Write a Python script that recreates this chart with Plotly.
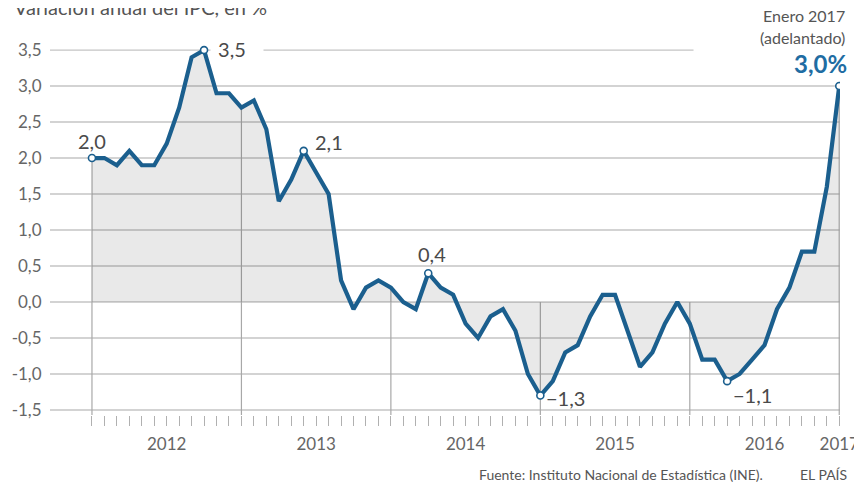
import plotly.graph_objects as go

# ---- data ----
months = [f"{y}-{m:02d}" for y in range(2012, 2017) for m in range(1, 13)] + ["2017-01"]
ipc = [2.0, 2.0, 1.9, 2.1, 1.9, 1.9, 2.2, 2.7, 3.4, 3.5, 2.9, 2.9,
       2.7, 2.8, 2.4, 1.4, 1.7, 2.1, 1.8, 1.5, 0.3, -0.1, 0.2, 0.3,
       0.2, 0.0, -0.1, 0.4, 0.2, 0.1, -0.3, -0.5, -0.2, -0.1, -0.4, -1.0,
       -1.3, -1.1, -0.7, -0.6, -0.2, 0.1, 0.1, -0.4, -0.9, -0.7, -0.3, 0.0,
       -0.3, -0.8, -0.8, -1.1, -1.0, -0.8, -0.6, -0.1, 0.2, 0.7, 0.7, 1.6,
       3.0]
highlight_months = ["2012-01", "2012-10", "2013-06", "2014-04", "2015-01", "2016-04", "2017-01"]
highlight_labels = ["2,0", "3,5", "2,1", "0,4", "−1,3", "−1,1", ""]
year_labels = ["2012", "2013", "2014", "2015", "2016", "2017"]
y_ticks = [-1.5, -1.0, -0.5, 0.0, 0.5, 1.0, 1.5, 2.0, 2.5, 3.0, 3.5]
y_ticktext = ["-1,5", "-1,0", "-0,5", "0,0", "0,5", "1,0", "1,5", "2,0", "2,5", "3,0", "3,5"]

x = list(range(len(months)))
hx = [months.index(m) for m in highlight_months]
hy = [ipc[i] for i in hx]

LINE = "#1b5f8e"
FONT = "Lato"
GRID = "#c4c4c4"
YMIN, YMAX = -1.57, 3.64
XMIN, XMAX = -3.37, 60.06

fig = go.Figure()
fig.add_trace(go.Scatter(
    x=x, y=ipc, mode="lines", fill="tozeroy",
    fillcolor="rgba(0,0,0,0.085)",
    line=dict(color=LINE, width=4.2), hoverinfo="skip"))
fig.add_trace(go.Scatter(
    x=hx, y=hy, mode="markers",
    marker=dict(symbol="circle", size=7, color="white",
                line=dict(color=LINE, width=1.6)), hoverinfo="skip"))

shapes = []
# horizontal gridlines
for v in y_ticks:
    x1 = XMAX if v < 3.5 else 48.3
    shapes.append(dict(type="line", xref="x", yref="y", x0=XMIN, x1=x1, y0=v, y1=v,
                       line=dict(color=GRID, width=1.4), layer="below"))
# vertical year lines
for i in range(0, len(months), 12):
    shapes.append(dict(type="line", xref="x", yref="y", x0=i, x1=i,
                       y0=max(ipc[i], 0), y1=YMIN,
                       line=dict(color="#a8a8a8", width=1.2), layer="below"))

ann = []
offs = {"2,0": ("center", 0, 17), "3,5": ("left", 10, 1), "2,1": ("left", 9, 9),
        "0,4": ("center", 4, 19), "−1,3": ("left", 4, -2), "−1,1": ("left", 4, -14)}
for i, t in zip(hx, highlight_labels):
    if not t:
        continue
    xa, xs, ys = offs[t]
    a = dict(x=i, y=ipc[i], xref="x", yref="y", text=t, showarrow=False,
             xanchor=xa, yanchor="middle", xshift=xs, yshift=ys,
             font=dict(family=FONT, size=20, color="#4a4a4a"))
    if t == "3,5":
        a.update(bgcolor="white", borderpad=2, text="&nbsp;3,5&nbsp;&nbsp;&nbsp;", xshift=6)
    ann.append(a)

# helpers: page pixel -> paper coordinate (plot area spans x 50..840, y 40..415 on the page)
def yp(p):
    return (415 - p) / 375

def xpp(p):
    return (p - 50) / 790

ann += [
    dict(x=xpp(12), y=yp(7), xref="paper", yref="paper", xanchor="left", yanchor="middle",
         text="Variación anual del IPC, en %", showarrow=False,
         font=dict(family=FONT, size=20, color="#555555")),
    dict(x=xpp(847), y=yp(15), xref="paper", yref="paper", xanchor="right", yanchor="middle",
         text="Enero 2017", showarrow=False, font=dict(family=FONT, size=16, color="#555555")),
    dict(x=xpp(847), y=yp(38), xref="paper", yref="paper", xanchor="right", yanchor="middle",
         text="(adelantado)", showarrow=False, font=dict(family=FONT, size=16, color="#555555")),
    dict(x=xpp(849), y=yp(64), xref="paper", yref="paper", xanchor="right", yanchor="middle",
         text="<b>3,0%</b>", showarrow=False, font=dict(family=FONT, size=24, color="#1f6da3")),
    dict(x=xpp(765), y=yp(474), xref="paper", yref="paper", xanchor="right", yanchor="middle",
         text="Fuente: Instituto Nacional de Estadística (INE).", showarrow=False,
         font=dict(family=FONT, size=14, color="#555555")),
    dict(x=xpp(849), y=yp(474), xref="paper", yref="paper", xanchor="right", yanchor="middle",
         text="EL PAÍS", showarrow=False, font=dict(family=FONT, size=14, color="#555555")),
]

year_pos = [6, 18, 30, 42, 54, 60]

# page has an 8px body margin: shift the layout up/left by 8px
fig.update_layout(
    width=862, height=488,
    margin=dict(l=42, r=30, t=32, b=81, autoexpand=False),
    paper_bgcolor="white", plot_bgcolor="white",
    showlegend=False,
    shapes=shapes, annotations=ann,
    xaxis=dict(range=[XMIN, XMAX], showgrid=False, zeroline=False, showline=False,
               automargin=False,
               tickmode="array", tickvals=year_pos, ticktext=year_labels,
               ticks="outside", ticklen=14, tickcolor="rgba(0,0,0,0)",
               tickfont=dict(family=FONT, size=17, color="#666666"),
               minor=dict(tickmode="array", tickvals=x, ticks="outside", ticklen=10,
                          tickwidth=1, tickcolor="#b0b0b0", showgrid=False),
               fixedrange=True),
    yaxis=dict(range=[YMIN, YMAX], showgrid=False, zeroline=False, showline=False,
               automargin=False,
               tickmode="array", tickvals=y_ticks, ticktext=y_ticktext,
               ticks="outside", ticklen=4, tickcolor="rgba(0,0,0,0)",
               tickfont=dict(family=FONT, size=17, color="#666666"),
               fixedrange=True),
)

fig.write_html("out.html")
